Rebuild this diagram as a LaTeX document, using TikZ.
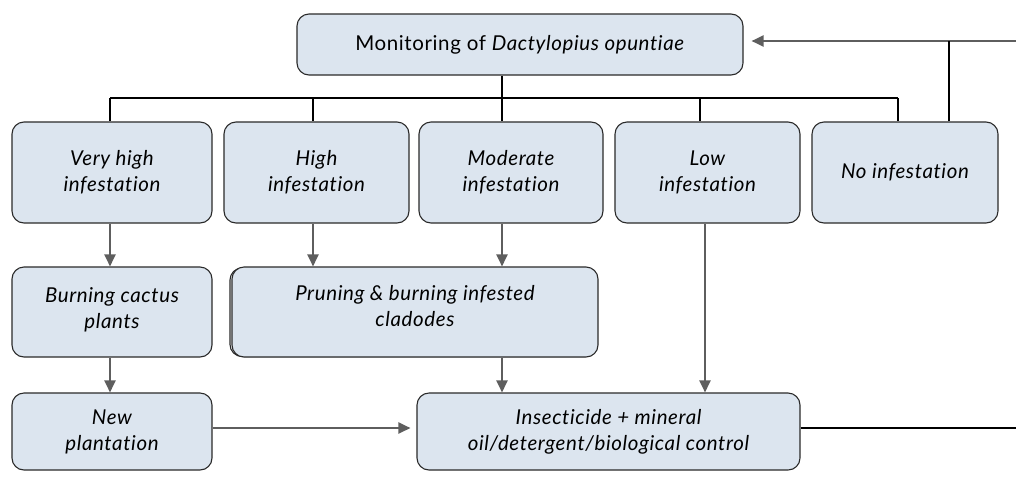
\documentclass[tikz,border=0pt]{standalone}
\usepackage{fontspec}
\setmainfont{Lato}[Ligatures=NoCommon,LetterSpace=3]
\usetikzlibrary{arrows.meta,calc}
\definecolor{boxfill}{HTML}{DCE5EF}
\definecolor{boxline}{HTML}{2A2A2A}
\definecolor{arrgray}{HTML}{5E5E5E}
\begin{document}
\begin{tikzpicture}[x=1pt,y=-1pt,
  box/.style={draw=boxline,line width=1.1pt,fill=boxfill,rounded corners=12pt,
    align=center,inner sep=0pt,font=\fontsize{20.5}{26}\selectfont\itshape},
  tree/.style={draw=black,line width=2pt},
  arr/.style={draw=arrgray,line width=2.2pt,-{Triangle[length=12pt,width=11pt]}}]
\useasboundingbox (0,0) rectangle (1016,480);
% row 0
\node[box,minimum width=446pt,minimum height=61pt,font=\fontsize{20.5}{26}\selectfont] (top) at (520,44.5) {Monitoring of \textit{Dactylopius opuntiae}};
% row 1
\node[box,minimum width=200pt,minimum height=101pt] (vh) at (112,172.5) {Very high\\infestation};
\node[box,minimum width=185pt,minimum height=101pt] (hi) at (316.5,172.5) {High\\infestation};
\node[box,minimum width=184pt,minimum height=101pt] (mo) at (511,172.5) {Moderate\\infestation};
\node[box,minimum width=185pt,minimum height=101pt] (lo) at (707.5,172.5) {Low\\infestation};
\node[box,minimum width=186pt,minimum height=101pt] (no) at (905,172.5) {No infestation};
% row 2
\node[box,minimum width=200pt,minimum height=90pt,text depth=8pt] (bc) at (112,312) {Burning cactus\\plants};
\draw[boxline,line width=1.1pt,rounded corners=12pt] (230,268) rectangle (597,356.5);
\node[box,minimum width=366pt,minimum height=90pt,text depth=12pt] (pr) at (415,312) {Pruning \& burning infested\\cladodes};
% row 3
\node[box,minimum width=200pt,minimum height=77pt] (np) at (112,431.5) {New\\plantation};
\node[box,minimum width=383pt,minimum height=77pt] (in) at (608.5,431.5) {Insecticide + mineral\\oil/detergent/biological control};
% tree
\coordinate (b1) at (110,98);
\coordinate (b2) at (313,98);
\coordinate (b3) at (502,98);
\coordinate (b4) at (700,98);
\coordinate (b5) at (898,98);
\draw[tree] (top.south -| b3) -- (b3);
\draw[tree] (b1) -- (b5);
\draw[tree] (b1) -- (b1 |- vh.north);
\draw[tree] (b2) -- (b2 |- hi.north);
\draw[tree] (b3) -- (b3 |- mo.north);
\draw[tree] (b4) -- (b4 |- lo.north);
\draw[tree] (b5) -- (b5 |- no.north);
% arrows
\draw[arr] (vh.south -| b1) -- (bc.north -| b1);
\draw[arr] (hi.south -| b2) -- (pr.north -| b2);
\draw[arr] (mo.south -| b3) -- (pr.north -| b3);
\draw[arr] (bc.south -| b1) -- (np.north -| b1);
\draw[arr] (pr.south -| b3) -- (in.north -| b3);
\coordinate (lx) at (705,0);
\draw[arr] (lo.south -| lx) -- (in.north -| lx);
\coordinate (ny) at (0,428);
\draw[arr] (np.east |- ny) -- ([xshift=-6pt]in.west |- ny);
% feedback
\coordinate (r1) at (1016,428);
\coordinate (r2) at (1016,41);
\coordinate (nj) at (949,41);
\draw[tree] (in.east |- r1) -- (r1);
\draw[arr] (r2) -- ([xshift=8pt]top.east |- r2);
\draw[tree] (no.north -| nj) -- (nj);
\end{tikzpicture}
\end{document}
